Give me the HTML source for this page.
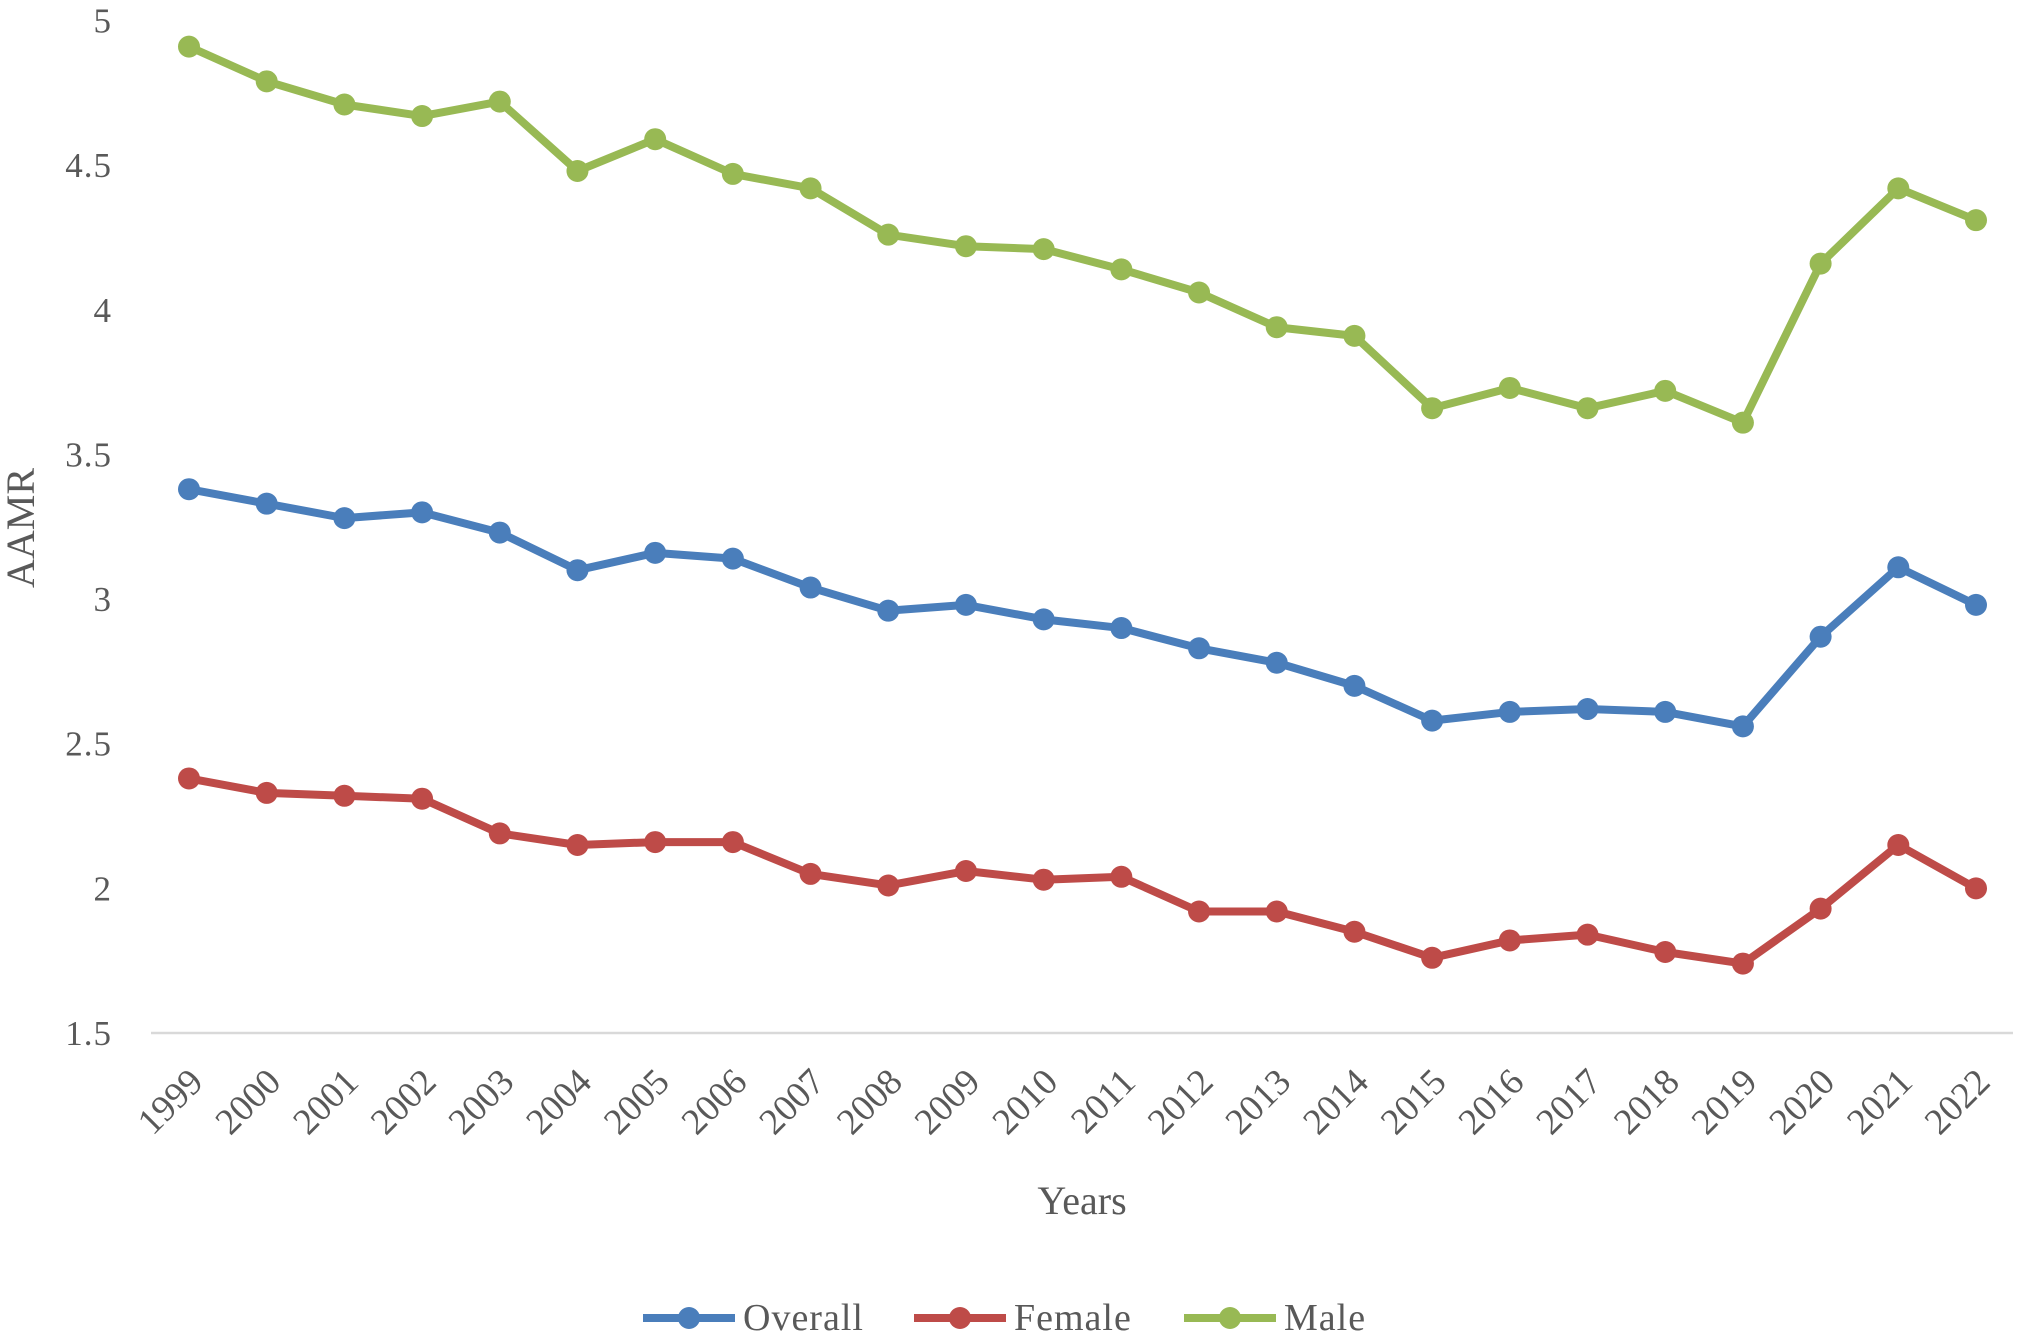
<!DOCTYPE html>
<html><head><meta charset="utf-8"><style>
html,body{margin:0;padding:0;background:#fff;}
svg{display:block;font-family:"Liberation Serif",serif;}
</style></head><body>
<svg id="chart" width="2018" height="1342" viewBox="0 0 2018 1342" xmlns="http://www.w3.org/2000/svg">
<g id="yticks"></g>
<g id="xticks"></g>
<line x1="151" y1="1033" x2="2013" y2="1033" stroke="#d9d9d9" stroke-width="2.5"/>
<g id="series"></g>
<text x="0" y="0" transform="translate(34,528) rotate(-90)" text-anchor="middle" font-size="40" fill="#595959">AAMR</text>
<text x="1082" y="1214" text-anchor="middle" font-size="40" fill="#595959">Years</text>
<g id="legend"></g>
</svg>
<script>
const years = ["1999","2000","2001","2002","2003","2004","2005","2006","2007","2008","2009","2010","2011","2012","2013","2014","2015","2016","2017","2018","2019","2020","2021","2022"];
const overall = [3.38,3.33,3.28,3.30,3.23,3.10,3.16,3.14,3.04,2.96,2.98,2.93,2.90,2.83,2.78,2.70,2.58,2.61,2.62,2.61,2.56,2.87,3.11,2.98];
const female = [2.38,2.33,2.32,2.31,2.19,2.15,2.16,2.16,2.05,2.01,2.06,2.03,2.04,1.92,1.92,1.85,1.76,1.82,1.84,1.78,1.74,1.93,2.15,2.00];
const male = [4.91,4.79,4.71,4.67,4.72,4.48,4.59,4.47,4.42,4.26,4.22,4.21,4.14,4.06,3.94,3.91,3.66,3.73,3.66,3.72,3.61,4.16,4.42,4.31];
const yTicks = ["1.5","2","2.5","3","3.5","4","4.5","5"];
const seriesNames = ["Overall","Female","Male"];

const NS="http://www.w3.org/2000/svg";
const X0=189, X1=1976, Y0=1033, YMIN=1.5, YMAX=5, YTOP=20.6;
function xs(i){return X0+(X1-X0)*i/(years.length-1);}
function ys(v){return Y0-(v-YMIN)/(YMAX-YMIN)*(Y0-YTOP);}
function mk(tag,attrs,parent){const e=document.createElementNS(NS,tag);for(const k in attrs)e.setAttribute(k,attrs[k]);parent.appendChild(e);return e;}

const yg=document.getElementById('yticks');
yTicks.forEach(t=>{
  const e=mk('text',{x:112,y:ys(parseFloat(t))+12,'text-anchor':'end','font-size':35,fill:'#595959','letter-spacing':'1'},yg);
  
  
  e.textContent=t;
});
const xg=document.getElementById('xticks');
years.forEach((y,i)=>{
  const x=xs(i)+16, yy=1084;
  const e=mk('text',{x:x,y:yy,'text-anchor':'end','font-size':37,fill:'#595959',transform:`rotate(-45 ${x} ${yy})`},xg);
  
  
  e.textContent=y;
});
const colors=["#4A7EBB","#BE4B48","#98B954"];
const data=[overall,female,male];
const sg=document.getElementById('series');
data.forEach((arr,si)=>{
  const g=mk('g',{},sg);
  
  
  const pts=arr.map((v,i)=>xs(i)+','+ys(v)).join(' ');
  const pl=mk('polyline',{points:pts,fill:'none',stroke:colors[si],'stroke-width':8,'stroke-linejoin':'round'},g);
  
  
  arr.forEach((v,i)=>{
    const c=mk('circle',{cx:xs(i),cy:ys(v),r:11,fill:colors[si]},g);
    
    
  });
});
const lg=document.getElementById('legend');
const lx=[643,914,1184];
seriesNames.forEach((n,i)=>{
  const g=mk('g',{},lg);
  
  
  mk('line',{x1:lx[i],y1:1318,x2:lx[i]+92,y2:1318,stroke:colors[i],'stroke-width':8},g);
  mk('circle',{cx:lx[i]+46,cy:1318,r:11,fill:colors[i]},g);
  const t=mk('text',{x:lx[i]+100,y:1330,'font-size':38,fill:'#595959','letter-spacing':'1'},g);
  t.textContent=n;
});
</script>
</body></html>
